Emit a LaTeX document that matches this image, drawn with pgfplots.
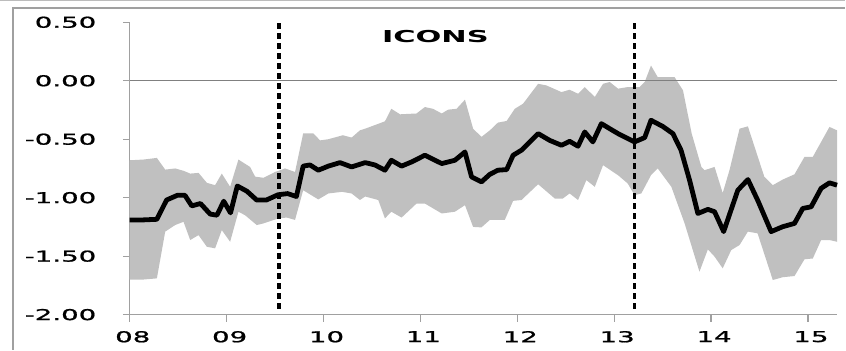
\documentclass[border=0pt]{standalone}
\usepackage{pgfplots}
\pgfplotsset{compat=1.18}
\usepgfplotslibrary{fillbetween}
\usepackage{fontspec}
\newfontfamily\tickfont{DejaVu Sans}[FakeStretch=1.85, FakeBold=1.2]
\newfontfamily\titlefont{DejaVu Sans}[FakeStretch=1.85]
\definecolor{band}{RGB}{192,192,192}
\definecolor{axgray}{RGB}{160,160,160}
\definecolor{zgray}{RGB}{128,128,128}
\begin{document}
\begin{tikzpicture}
\path (0bp,0bp) rectangle (846bp,350bp);
\draw[axgray!70, line width=0.8bp] (0bp,349.3bp) -- (846bp,349.3bp);
\draw[axgray, line width=1.2bp] (12.7bp,0bp) -- (12.7bp,342bp) -- (846bp,342bp);
\begin{axis}[
  at={(129.5bp,35bp)}, anchor=south west,
  scale only axis, width=708.5bp, height=292.7bp,
  xmin=8, xmax=15.304, ymin=-2, ymax=0.5,
  axis x line*=bottom, axis y line*=left,
  axis line style={axgray, line width=1.3bp, -},
  tick style={axgray, line width=1.3bp},
  tick align=outside, major tick length=7bp,
  xtick={8,9,10,11,12,13,14,15},
  xticklabels={08,09,10,11,12,13,14,15},
  ytick={-2,-1.5,-1,-0.5,0,0.5},
  yticklabel style={anchor=east, xshift=-23bp, /pgf/number format/.cd, fixed, fixed zerofill, precision=2, assume math mode=true},
  xticklabel style={yshift=-6bp, xshift=3bp},
  ticklabel style={font=\tickfont\fontsize{15}{15}\selectfont, text=black},
  clip=false,
]
\addplot[name path=up, draw=none, forget plot] coordinates {
(8.00,-0.68) (8.14,-0.674) (8.28,-0.66) (8.366,-0.76) (8.469,-0.75) (8.555,-0.77) (8.624,-0.794) (8.71,-0.788) (8.796,-0.873) (8.881,-0.893) (8.95,-0.794) (9.036,-0.907) (9.122,-0.674) (9.19,-0.71) (9.242,-0.737) (9.294,-0.82) (9.38,-0.83) (9.5,-0.78) (9.603,-0.75) (9.706,-0.78) (9.79,-0.45) (9.895,-0.45) (9.964,-0.51) (10.05,-0.50) (10.2,-0.466) (10.29,-0.486) (10.376,-0.424) (10.43,-0.41) (10.634,-0.347) (10.70,-0.24) (10.79,-0.287) (10.96,-0.28) (11.046,-0.225) (11.13,-0.24) (11.22,-0.28) (11.287,-0.247) (11.373,-0.24) (11.46,-0.162) (11.544,-0.41) (11.63,-0.48) (11.717,-0.424) (11.80,-0.358) (11.89,-0.344) (11.974,-0.24) (12.06,-0.196) (12.215,-0.026) (12.30,-0.04) (12.456,-0.097) (12.54,-0.077) (12.627,-0.111) (12.696,-0.054) (12.80,-0.139) (12.885,-0.026) (12.954,-0.011) (13.04,-0.068) (13.14,-0.054) (13.263,-0.054) (13.315,-0.011) (13.38,0.13) (13.45,0.03) (13.624,0.03) (13.71,-0.082) (13.80,-0.452) (13.90,-0.737) (13.933,-0.765) (14.036,-0.737) (14.12,-0.96) (14.19,-0.765) (14.294,-0.41) (14.38,-0.39) (14.55,-0.822) (14.637,-0.893) (14.74,-0.845) (14.861,-0.80) (14.964,-0.651) (15.05,-0.651) (15.222,-0.395) (15.30,-0.424)
};
\addplot[name path=lo, draw=none, forget plot] coordinates {
(8.00,-1.70) (8.14,-1.70) (8.28,-1.69) (8.366,-1.29) (8.469,-1.234) (8.555,-1.206) (8.624,-1.362) (8.71,-1.32) (8.796,-1.42) (8.881,-1.433) (8.95,-1.277) (9.036,-1.377) (9.122,-1.12) (9.19,-1.15) (9.311,-1.234) (9.38,-1.22) (9.534,-1.177) (9.62,-1.17) (9.706,-1.19) (9.79,-0.936) (9.946,-1.015) (10.05,-0.964) (10.19,-0.95) (10.29,-0.964) (10.376,-1.02) (10.43,-0.99) (10.565,-1.02) (10.634,-1.177) (10.70,-1.12) (10.806,-1.17) (10.96,-1.05) (11.046,-1.05) (11.22,-1.135) (11.356,-1.12) (11.46,-1.064) (11.544,-1.25) (11.63,-1.254) (11.717,-1.19) (11.871,-1.19) (11.957,-1.027) (12.043,-1.02) (12.215,-0.885) (12.387,-1.007) (12.47,-1.007) (12.54,-0.964) (12.627,-1.02) (12.713,-0.85) (12.80,-0.907) (12.885,-0.722) (13.04,-0.808) (13.14,-0.879) (13.21,-0.978) (13.28,-0.964) (13.38,-0.808) (13.45,-0.75) (13.59,-0.907) (13.727,-1.22) (13.88,-1.633) (13.967,-1.442) (14.036,-1.504) (14.12,-1.604) (14.208,-1.448) (14.294,-1.405) (14.38,-1.29) (14.48,-1.305) (14.637,-1.704) (14.74,-1.68) (14.861,-1.67) (14.964,-1.527) (15.05,-1.52) (15.136,-1.362) (15.222,-1.362) (15.30,-1.377)
};
\addplot[fill=band, draw=none, forget plot] fill between[of=up and lo];
\addplot[zgray, line width=1.2bp, forget plot] coordinates {(8,0) (15.304,0)};
\addplot[black, line width=3.2bp, dash pattern=on 6bp off 4bp, forget plot] coordinates {(9.54,0.49) (9.54,-1.96)};
\addplot[black, line width=3.2bp, dash pattern=on 6bp off 4bp, forget plot] coordinates {(13.21,0.49) (13.21,-1.96)};
\addplot[black, line width=4.8bp, line join=round, forget plot] coordinates {
(8.00,-1.19) (8.14,-1.19) (8.28,-1.185) (8.38,-1.02) (8.49,-0.98) (8.57,-0.98) (8.64,-1.07) (8.73,-1.05) (8.83,-1.14) (8.90,-1.15) (8.97,-1.03) (9.04,-1.13) (9.11,-0.90) (9.21,-0.945) (9.31,-1.02) (9.41,-1.02) (9.53,-0.975) (9.63,-0.965) (9.72,-0.99) (9.79,-0.73) (9.86,-0.72) (9.946,-0.765) (10.05,-0.73) (10.17,-0.70) (10.29,-0.737) (10.43,-0.70) (10.53,-0.72) (10.634,-0.765) (10.70,-0.68) (10.806,-0.73) (10.91,-0.694) (11.046,-0.637) (11.22,-0.708) (11.356,-0.68) (11.46,-0.609) (11.528,-0.822) (11.63,-0.865) (11.717,-0.80) (11.80,-0.765) (11.89,-0.76) (11.957,-0.637) (12.043,-0.594) (12.215,-0.452) (12.335,-0.51) (12.456,-0.552) (12.54,-0.518) (12.627,-0.56) (12.696,-0.438) (12.78,-0.523) (12.868,-0.367) (12.954,-0.41) (13.04,-0.452) (13.21,-0.523) (13.315,-0.486) (13.38,-0.338) (13.50,-0.39) (13.606,-0.452) (13.69,-0.594) (13.778,-0.85) (13.864,-1.135) (13.967,-1.10) (14.036,-1.12) (14.13,-1.29) (14.276,-0.936) (14.38,-0.845) (14.48,-1.02) (14.62,-1.29) (14.74,-1.248) (14.861,-1.22) (14.946,-1.092) (15.033,-1.078) (15.136,-0.92) (15.222,-0.873) (15.30,-0.893)
};
\node[font=\titlefont\bfseries\fontsize{16.5}{16.5}\selectfont] at (axis cs:11.155,0.377) {ICONS};
\end{axis}
\end{tikzpicture}
\end{document}
